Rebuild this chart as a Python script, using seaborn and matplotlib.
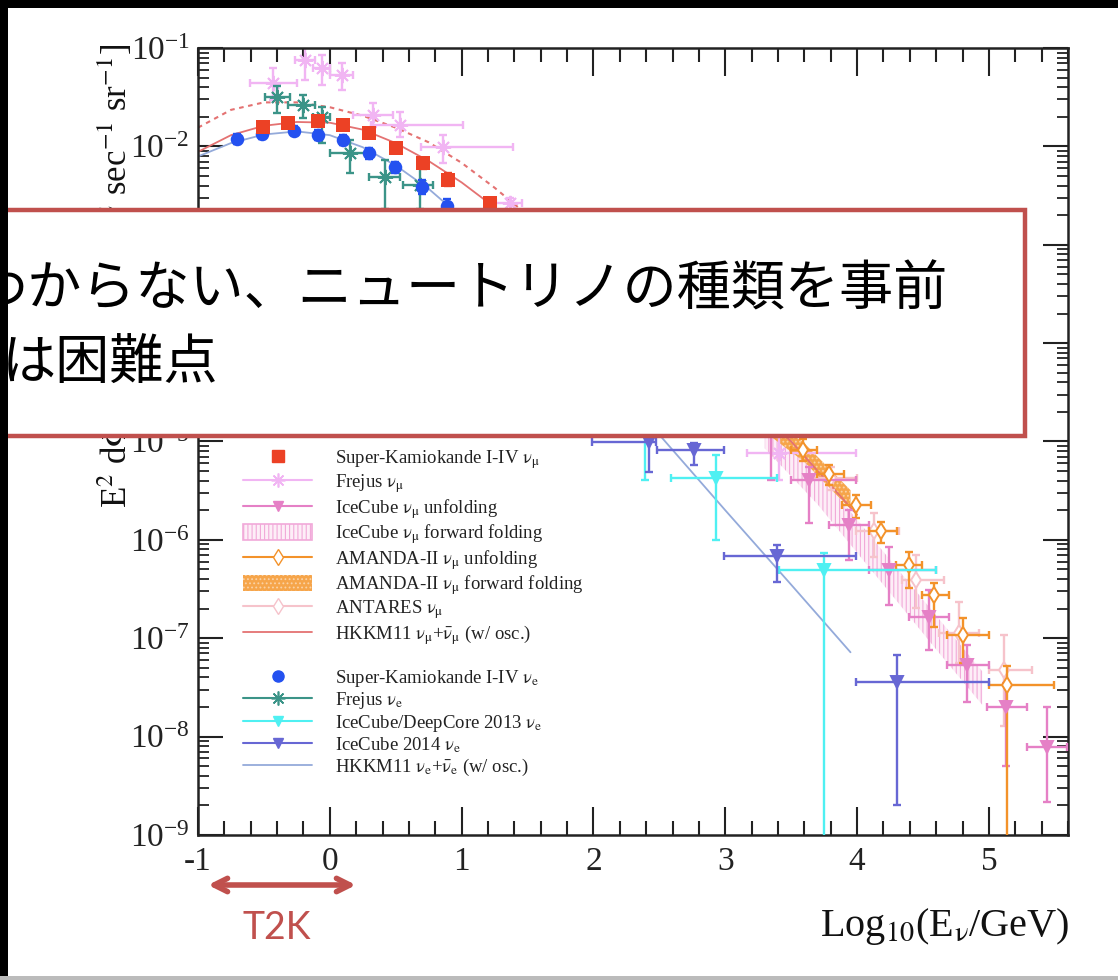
import numpy as np
import pandas as pd
import matplotlib
matplotlib.use("Agg")
import matplotlib.pyplot as plt
import seaborn as sns
from matplotlib.patches import Rectangle, Patch, FancyArrowPatch
from matplotlib.lines import Line2D
from matplotlib.ticker import LogLocator, MultipleLocator, LogFormatterSciNotation, NullFormatter

# ---------------- data (log10(E/GeV), E^2 flux) ----------------
# Super-Kamiokande I-IV nu_mu
sk_mu_x = [-0.505, -0.32, -0.089, 0.098, 0.295, 0.505, 0.707, 0.896, 1.212]
sk_mu_y = [1.56e-2, 1.72e-2, 1.81e-2, 1.65e-2, 1.36e-2, 9.6e-3, 6.7e-3, 4.6e-3, 2.64e-3]
sk_mu_ylo = [1.40e-2, 1.55e-2, 1.63e-2, 1.48e-2, 1.22e-2, 8.5e-3, 5.9e-3, 4.0e-3, 2.3e-3]
sk_mu_yhi = [1.72e-2, 1.90e-2, 2.00e-2, 1.83e-2, 1.51e-2, 1.08e-2, 7.6e-3, 5.3e-3, 3.0e-3]

# Super-Kamiokande I-IV nu_e
sk_e_x = [-0.707, -0.513, -0.27, -0.093, 0.098, 0.295, 0.498, 0.699, 0.889]
sk_e_y = [1.19e-2, 1.34e-2, 1.45e-2, 1.31e-2, 1.16e-2, 8.5e-3, 6.2e-3, 3.9e-3, 2.5e-3]
sk_e_ylo = [1.05e-2, 1.20e-2, 1.30e-2, 1.17e-2, 1.03e-2, 7.5e-3, 5.4e-3, 3.3e-3, 2.1e-3]
sk_e_yhi = [1.33e-2, 1.49e-2, 1.61e-2, 1.46e-2, 1.30e-2, 9.6e-3, 7.0e-3, 4.5e-3, 2.9e-3]

# Frejus nu_mu
fr_mu_x = [-0.429, -0.189, -0.063, 0.089, 0.328, 0.530, 0.858, 1.364, 3.409]
fr_mu_y = [4.4e-2, 7.55e-2, 6.2e-2, 5.3e-2, 2.08e-2, 1.65e-2, 9.9e-3, 2.66e-3, 7.6e-6]
fr_mu_xlo = [-0.606, -0.265, -0.13, 0.0, 0.176, 0.316, 0.69, 1.26, 3.167]
fr_mu_xhi = [-0.252, -0.114, 0.0, 0.174, 0.48, 1.01, 1.39, 1.46, 3.99]
fr_mu_ylo = [2.96e-2, 4.73e-2, 4.2e-2, 3.7e-2, 1.58e-2, 1.26e-2, 6.8e-3, 2.2e-3, 4.07e-6]
fr_mu_yhi = [6.2e-2, 1.2e-1, 8.5e-2, 7.0e-2, 2.75e-2, 2.26e-2, 1.30e-2, 3.0e-3, 1.2e-5]

# Frejus nu_e
fr_e_x = [-0.404, -0.202, -0.063, 0.152, 0.417, 0.682]
fr_e_y = [3.2e-2, 2.64e-2, 2.0e-2, 8.5e-3, 4.9e-3, 4.05e-3]
fr_e_xlo = [-0.49, -0.32, -0.13, 0.0, 0.30, 0.553]
fr_e_xhi = [-0.30, -0.11, 0.0, 0.326, 0.53, 0.78]
fr_e_ylo = [2.18e-2, 1.94e-2, 1.08e-2, 5.4e-3, 2.3e-3, 2.3e-3]
fr_e_yhi = [4.1e-2, 3.3e-2, 2.53e-2, 1.16e-2, 7.3e-3, 6.2e-3]

# IceCube nu_mu unfolding
ic_x = [3.345, 3.636, 3.939, 4.242, 4.545, 4.836, 5.126, 5.441]
ic_y = [1.31e-5, 4.07e-6, 1.42e-6, 4.95e-7, 1.66e-7, 5.4e-8, 2.02e-8, 7.9e-9]
ic_xlo = [3.2, 3.498, 3.788, 4.091, 4.394, 4.682, 4.985, 5.288]
ic_xhi = [3.5, 3.99, 4.091, 4.598, 4.697, 5.0, 5.288, 5.591]
ic_ylo = [4.07e-6, 1.49e-6, 6.3e-7, 2.19e-7, 7.6e-8, 2.27e-8, 5.0e-9, 2.19e-9]
ic_yhi = [2.0e-5, 5.5e-6, 2.02e-6, 8.5e-7, 3.1e-7, 8.6e-8, 3.5e-8, 2.02e-8]

# IceCube nu_mu forward folding band
icff_x = [3.3, 3.7, 4.0, 4.3, 4.6, 4.95]
icff_lo = [8.5e-6, 2.3e-6, 7.4e-7, 2.4e-7, 7.7e-8, 2.1e-8]
icff_hi = [1.85e-5, 5.0e-6, 1.6e-6, 5.2e-7, 1.7e-7, 4.6e-8]

# AMANDA-II nu_mu unfolding
am_x = [3.586, 3.788, 3.99, 4.179, 4.394, 4.583, 4.803, 5.139]
am_y = [8.2e-6, 4.7e-6, 2.27e-6, 1.22e-6, 5.6e-7, 2.76e-7, 1.08e-7, 3.36e-8]
am_xlo = [3.498, 3.699, 3.886, 4.091, 4.293, 4.492, 4.682, 5.0]
am_xhi = [3.699, 3.902, 4.106, 4.303, 4.492, 4.697, 5.0, 5.492]
am_ylo = [6.3e-6, 3.6e-6, 1.67e-6, 9.2e-7, 3.23e-7, 1.31e-7, 5.6e-8, 1e-12]
am_yhi = [1.05e-5, 5.8e-6, 2.88e-6, 1.53e-6, 7.6e-7, 3.66e-7, 1.61e-7, 5.2e-8]

# AMANDA-II nu_mu forward folding band
amff_x = [3.3, 3.6, 3.95]
amff_lo = [1.25e-5, 6.2e-6, 2.05e-6]
amff_hi = [1.9e-5, 9.6e-6, 3.2e-6]

# ANTARES nu_mu
ant_x = [3.80, 4.129, 4.445, 4.773, 5.114]
ant_y = [4.24e-6, 1.22e-6, 3.92e-7, 1.13e-7, 4.77e-8]
ant_xlo = [3.636, 3.99, 4.341, 4.62, 5.0]
ant_xhi = [4.0, 4.318, 4.659, 4.924, 5.326]
ant_ylo = [3.2e-6, 6.7e-7, 2.04e-7, 5.6e-8, 1.27e-8]
ant_yhi = [5.5e-6, 1.88e-6, 7.05e-7, 2.36e-7, 1.08e-7]

# IceCube/DeepCore 2013 nu_e
dc_x = [2.394, 2.929, 3.75]
dc_y = [1.31e-5, 4.24e-6, 4.95e-7]
dc_xlo = [2.24, 2.588, 3.41]
dc_xhi = [2.54, 3.396, 4.596]
dc_ylo = [4.07e-6, 1.0e-6, 1e-12]
dc_yhi = [2.5e-5, 7.3e-6, 7.4e-7]

# IceCube 2014 nu_e
ic14_x = [2.419, 2.765, 3.389, 4.305]
ic14_y = [9.97e-6, 8.2e-6, 6.8e-7, 3.63e-8]
ic14_xlo = [1.992, 2.485, 2.992, 3.99]
ic14_xhi = [2.477, 2.992, 3.99, 5.0]
ic14_ylo = [4.94e-6, 5.8e-6, 3.77e-7, 2.03e-9]
ic14_yhi = [1.5e-5, 9.7e-6, 8.9e-7, 6.8e-8]

# HKKM11 predictions
hk_mu_x = [-1, -0.75, -0.5, -0.25, 0, 0.25, 0.5, 0.75, 1.0, 1.25, 1.5, 2.0, 2.5, 3.0, 3.5, 4.0]
hk_mu_y = [8.8e-3, 1.3e-2, 1.62e-2, 1.77e-2, 1.74e-2, 1.48e-2, 1.08e-2, 7.1e-3, 4.3e-3,
           2.4e-3, 1.3e-3, 4.4e-4, 1.4e-4, 4.2e-5, 1.0e-5, 1.8e-6]
hk_e_x = [-1, -0.75, -0.5, -0.25, 0, 0.25, 0.5, 0.75, 1.0, 1.5, 2.0, 2.5, 3.0, 3.5, 3.95]
hk_e_y = [7.9e-3, 1.08e-2, 1.32e-2, 1.42e-2, 1.3e-2, 9.8e-3, 6.4e-3, 3.7e-3, 1.9e-3,
          3.5e-4, 6.5e-5, 1.17e-5, 2.0e-6, 3.5e-7, 7.2e-8]
hk_dot_x = [-1, -0.75, -0.5, -0.25, 0, 0.25, 0.5, 0.75, 1.0, 1.25, 1.5, 1.75]
hk_dot_y = [1.55e-2, 2.35e-2, 2.8e-2, 2.8e-2, 2.5e-2, 2.05e-2, 1.55e-2, 1.1e-2, 6.8e-3,
            3.8e-3, 2.0e-3, 1.0e-3]

legend_labels = [
    r"Super-Kamiokande I-IV $\mathrm{\nu}_\mathrm{\mu}$",
    r"Frejus $\mathrm{\nu}_\mathrm{\mu}$",
    r"IceCube $\mathrm{\nu}_\mathrm{\mu}$ unfolding",
    r"IceCube $\mathrm{\nu}_\mathrm{\mu}$ forward folding",
    r"AMANDA-II $\mathrm{\nu}_\mathrm{\mu}$ unfolding",
    r"AMANDA-II $\mathrm{\nu}_\mathrm{\mu}$ forward folding",
    r"ANTARES $\mathrm{\nu}_\mathrm{\mu}$",
    r"HKKM11 $\mathrm{\nu}_\mathrm{\mu}$+$\bar{\mathrm{\nu}}_\mathrm{\mu}$ (w/ osc.)",
    " ",
    r"Super-Kamiokande I-IV $\mathrm{\nu}_\mathrm{e}$",
    r"Frejus $\mathrm{\nu}_\mathrm{e}$",
    r"IceCube/DeepCore 2013 $\mathrm{\nu}_\mathrm{e}$",
    r"IceCube 2014 $\mathrm{\nu}_\mathrm{e}$",
    r"HKKM11 $\mathrm{\nu}_\mathrm{e}$+$\bar{\mathrm{\nu}}_\mathrm{e}$ (w/ osc.)",
]
x_ticks = [-1, 0, 1, 2, 3, 4, 5]

# ---------------- style ----------------
sns.set_style("ticks")
plt.rcParams['font.family'] = ['Liberation Serif', 'DejaVu Serif']
plt.rcParams['mathtext.fontset'] = 'stix'
plt.rcParams['axes.unicode_minus'] = False
plt.rcParams['hatch.linewidth'] = 0.8

C_SKMU = '#ec4125'
C_SKE = '#2451f0'
C_FRMU = '#f1b5f3'
C_FRE = '#3b9488'
C_IC = '#e580c6'
C_ICFF = '#f1a9d9'
C_AM = '#f3922a'
C_AMFF = '#f6a54a'
C_ANT = '#f6c3cb'
C_HKMU = '#e47272'
C_DC = '#4ff0f2'
C_IC14 = '#6767d4'
C_HKE = '#94aada'
C_BOX = '#c0504d'

W, H = 1118, 980
fig = plt.figure(figsize=(W / 100, H / 100), dpi=100)
fig.patch.set_facecolor('white')


def fx(px):
    return px / W


def fy(py):
    return 1 - py / H


ax = fig.add_axes([fx(198), fy(835), fx(1068) - fx(198), fy(48) - fy(835)])
ax.set_yscale('log')

# bands
ax.fill_between(icff_x, icff_lo, icff_hi, facecolor='#fdeef7', edgecolor=C_ICFF,
                hatch='||||', linewidth=0, zorder=1)
ax.fill_between(amff_x, amff_lo, amff_hi, facecolor=C_AMFF, edgecolor='#fbd2a6',
                hatch='....', linewidth=0, zorder=1.5)

# model lines
sns.lineplot(x=hk_dot_x, y=hk_dot_y, ax=ax, color=C_HKMU, lw=1.5, linestyle=(0, (2.2, 2.2)),
             sort=False, estimator=None, zorder=2)
sns.lineplot(x=hk_mu_x, y=hk_mu_y, ax=ax, color=C_HKMU, lw=1.3, sort=False, estimator=None, zorder=2)
sns.lineplot(x=hk_e_x, y=hk_e_y, ax=ax, color=C_HKE, lw=1.3, sort=False, estimator=None, zorder=2)

ELW = 1.7


def pts(x, y, xlo, xhi, ylo, yhi, color, marker, ms, mfc=None, mew=1.4, z=3):
    x = np.asarray(x, float)
    y = np.asarray(y, float)
    xe = [x - np.asarray(xlo), np.asarray(xhi) - x]
    ye = [y - np.asarray(ylo), np.asarray(yhi) - y]
    ax.errorbar(x, y, xerr=xe, yerr=ye, fmt='none', ecolor=color, elinewidth=ELW,
                capsize=3, capthick=ELW, zorder=z)
    ax.plot(x, y, linestyle='none', marker=marker, ms=ms, color=color,
            mfc=(mfc if mfc is not None else color), mec=color, mew=mew, zorder=z + 0.1)


pts(fr_mu_x, fr_mu_y, fr_mu_xlo, fr_mu_xhi, fr_mu_ylo, fr_mu_yhi, C_FRMU, (8, 2, 0), 11, z=2.5)
pts(ant_x, ant_y, ant_xlo, ant_xhi, ant_ylo, ant_yhi, C_ANT, 'd', 8, mfc='white', z=2.6)
pts(ic_x, ic_y, ic_xlo, ic_xhi, ic_ylo, ic_yhi, C_IC, 'v', 8, z=2.7)
pts(am_x, am_y, am_xlo, am_xhi, am_ylo, am_yhi, C_AM, 'd', 8, mfc='white', z=2.8)
pts(dc_x, dc_y, dc_xlo, dc_xhi, dc_ylo, dc_yhi, C_DC, 'v', 8, z=2.9)
pts(ic14_x, ic14_y, ic14_xlo, ic14_xhi, ic14_ylo, ic14_yhi, C_IC14, 'v', 8, z=3.0)
pts(fr_e_x, fr_e_y, fr_e_xlo, fr_e_xhi, fr_e_ylo, fr_e_yhi, C_FRE, (8, 2, 0), 11, z=3.1)

# Super-K points (seaborn scatter + small error bars)
ax.errorbar(sk_e_x, sk_e_y, yerr=[np.array(sk_e_y) - np.array(sk_e_ylo), np.array(sk_e_yhi) - np.array(sk_e_y)],
            fmt='none', ecolor=C_SKE, elinewidth=ELW, capsize=3, capthick=ELW, zorder=3.3)
sns.scatterplot(x=sk_e_x, y=sk_e_y, ax=ax, marker='o', s=95, color=C_SKE, edgecolor=C_SKE,
                linewidth=0, zorder=3.4, legend=False)
ax.errorbar(sk_mu_x, sk_mu_y, yerr=[np.array(sk_mu_y) - np.array(sk_mu_ylo), np.array(sk_mu_yhi) - np.array(sk_mu_y)],
            fmt='none', ecolor=C_SKMU, elinewidth=ELW, capsize=3, capthick=ELW, zorder=3.5)
sns.scatterplot(x=sk_mu_x, y=sk_mu_y, ax=ax, marker='s', s=115, color=C_SKMU, edgecolor=C_SKMU,
                linewidth=0, zorder=3.6, legend=False)

# axes styling
ax.set_xlim(-1, 5.6)
ax.set_ylim(1e-9, 1e-1)
ax.set_xlabel('')
ax.set_ylabel('')
ax.xaxis.set_major_locator(MultipleLocator(1))
ax.xaxis.set_minor_locator(MultipleLocator(0.2))
ax.set_xticks(x_ticks)
ax.set_xticklabels([str(t) for t in x_ticks])
ax.yaxis.set_major_locator(LogLocator(base=10, numticks=20))
ax.yaxis.set_minor_locator(LogLocator(base=10, subs=np.arange(2, 10), numticks=200))
ax.yaxis.set_major_formatter(LogFormatterSciNotation())
ax.yaxis.set_minor_formatter(NullFormatter())
ax.tick_params(axis='both', which='both', direction='in', top=True, right=True, colors='#222222')
ax.tick_params(axis='x', which='major', length=20, width=1.5, labelsize=24, pad=8)
ax.tick_params(axis='x', which='minor', length=10, width=1.5)
ax.tick_params(axis='y', which='major', length=18, width=1.5, labelsize=24, pad=6)
ax.tick_params(axis='y', which='minor', length=8, width=1.3)
for s in ax.spines.values():
    s.set_linewidth(1.8)
    s.set_color('#222222')

# legend
handles = [
    Line2D([], [], ls='none', marker='s', color=C_SKMU, ms=9),
    Line2D([], [], color=C_FRMU, marker=(8, 2, 0), ms=10, lw=1.5, mew=1.2),
    Line2D([], [], color=C_IC, marker='v', ms=7, lw=1.5),
    Patch(facecolor='#fdeef7', edgecolor=C_ICFF, hatch='||||', lw=1.2),
    Line2D([], [], color=C_AM, marker='d', mfc='white', ms=8, lw=1.5),
    Patch(facecolor=C_AMFF, edgecolor='#fbd2a6', hatch='....', lw=0),
    Line2D([], [], color=C_ANT, marker='d', mfc='white', ms=8, lw=1.5),
    Line2D([], [], color=C_HKMU, lw=1.3),
    Line2D([], [], ls='none'),
    Line2D([], [], ls='none', marker='o', color=C_SKE, ms=8),
    Line2D([], [], color=C_FRE, marker=(8, 2, 0), ms=10, lw=1.5, mew=1.2),
    Line2D([], [], color=C_DC, marker='v', ms=7, lw=1.5),
    Line2D([], [], color=C_IC14, marker='v', ms=7, lw=1.5),
    Line2D([], [], color=C_HKE, lw=1.3),
]
leg = ax.legend(handles, legend_labels, loc='upper left', bbox_to_anchor=(fx(243), fy(448)),
                bbox_transform=fig.transFigure, frameon=False, fontsize=13.5,
                handlelength=3.7, handleheight=0.9, handletextpad=1.2, labelspacing=0.08,
                borderpad=0, borderaxespad=0)
for t in leg.get_texts():
    t.set_color('#222222')

# y label (partly hidden by the overlay box)
fig.text(fx(116), fy(44), r"E$^2$ d$\Phi$/dE [GeV cm$^{-2}$ sec$^{-1}$ sr$^{-1}$]",
         rotation=90, ha='center', va='top', fontsize=25, color='#111111')
# x label
fig.text(fx(1069), fy(926), r"Log$_{10}$(E$_\mathrm{\nu}$/GeV)", ha='right', va='center',
         fontsize=29, color='#111111')

# slide overlays
fig.add_artist(Rectangle((fx(-20), fy(436)), fx(1025) - fx(-20), fy(210) - fy(436),
                         transform=fig.transFigure, facecolor='white', edgecolor=C_BOX,
                         lw=3.2, zorder=10))
fig.text(fx(-27), fy(290), "わからない、ニュートリノの種類を事前", fontsize=39,
         family=['Noto Sans CJK JP'], ha='left', va='center', color='black', zorder=11)
fig.text(fx(2), fy(364), "は困難点", fontsize=39,
         family=['Noto Sans CJK JP'], ha='left', va='center', color='black', zorder=11)

fig.add_artist(FancyArrowPatch((fx(208), fy(885)), (fx(356), fy(885)), transform=fig.transFigure,
                               arrowstyle='<->', mutation_scale=24, lw=4, color=C_BOX,
                               shrinkA=0, shrinkB=0, zorder=10))
fig.text(fx(277), fy(928), "T2K", color=C_BOX, fontsize=27, family=['Lato'],
         ha='center', va='center', zorder=10)

# black slide frame
fig.add_artist(Rectangle((0, fy(8)), 1, fy(0) - fy(8), transform=fig.transFigure,
                         facecolor='black', edgecolor='none', zorder=20))
fig.add_artist(Rectangle((0, 0), fx(8), 1, transform=fig.transFigure,
                         facecolor='black', edgecolor='none', zorder=20))
fig.add_artist(Rectangle((0, 0), 1, fy(976), transform=fig.transFigure,
                         facecolor='#bbbbbb', edgecolor='none', zorder=20))

fig.savefig("out.png", dpi=100, facecolor='white')
